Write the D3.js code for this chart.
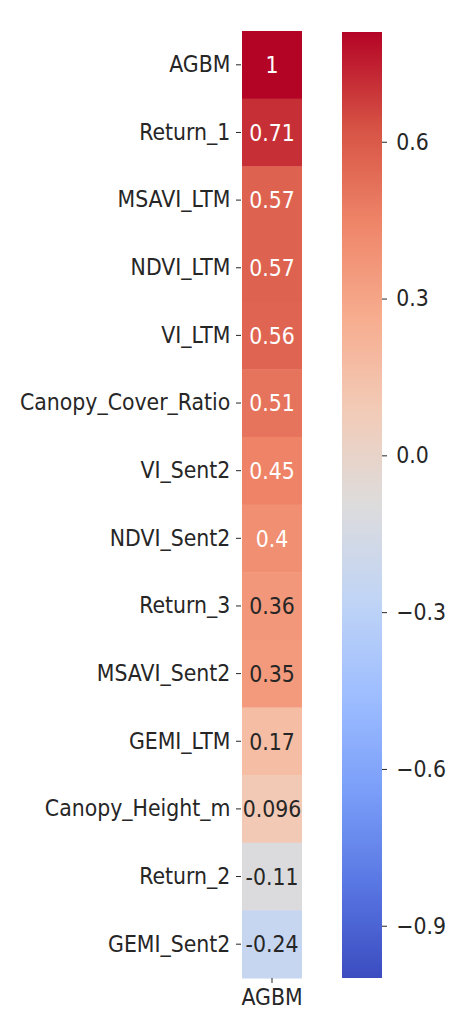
<!DOCTYPE html>
<html>
<head>
<meta charset="utf-8">
<script src="https://cdn.jsdelivr.net/npm/d3@7"></script>
<style>
  html, body { margin: 0; padding: 0; background: #fff; }
  text { font-family: "DejaVu Sans", sans-serif; }
</style>
</head>
<body>
<svg id="chart" width="450" height="1021"></svg>
<script>
const categories = ["AGBM","Return_1","MSAVI_LTM","NDVI_LTM","VI_LTM","Canopy_Cover_Ratio","VI_Sent2","NDVI_Sent2","Return_3","MSAVI_Sent2","GEMI_LTM","Canopy_Height_m","Return_2","GEMI_Sent2"];
const values = [1, 0.71, 0.57, 0.57, 0.56, 0.51, 0.45, 0.4, 0.36, 0.35, 0.17, 0.096, -0.11, -0.24];
const labels = ["1","0.71","0.57","0.57","0.56","0.51","0.45","0.4","0.36","0.35","0.17","0.096","-0.11","-0.24"];
const columnName = ["AGBM"];
const colorbarTicks = [0.6, 0.3, 0.0, -0.3, -0.6, -0.9];
const colorDomain = [-1, 0.81];
const coolwarm = ["#3b4cc0","#5977e3","#7b9ff9","#9ebeff","#c0d4f5","#dddcdc","#f2cbb7","#f7ac8e","#ee8468","#d65244","#b40426"];

const svg = d3.select("#chart");
const FS = 23, SX = 0.89;
const plotTop = 31, plotBottom = 978;
const hmLeft = 242, hmRight = 302;
const cbLeft = 342, cbRight = 382;

const interp = d3.piecewise(d3.interpolateRgb, coolwarm);
const norm = d3.scaleLinear().domain(colorDomain).range([0,1]).clamp(true);
const color = v => interp(norm(v));

const y = d3.scaleBand().domain(categories).range([plotTop, plotBottom]);
const x = d3.scaleBand().domain(columnName).range([hmLeft, hmRight]);

// cells
svg.append("g").selectAll("rect").data(categories).join("rect")
  .attr("x", x("AGBM")).attr("width", x.bandwidth())
  .attr("y", d => y(d)).attr("height", y.bandwidth() + 0.5)
  .attr("fill", (d,i) => color(values[i]));

// annotations
svg.append("g").selectAll("text").data(categories).join("text")
  .attr("transform", d => `translate(${x("AGBM") + x.bandwidth()/2},${y(d) + y.bandwidth()/2}) scale(${SX},1)`)
  .attr("text-anchor", "middle").attr("dy", "0.36em")
  .attr("font-size", FS)
  .attr("fill", (d,i) => norm(values[i]) > 0.76 ? "#ffffff" : "#262626")
  .text((d,i) => labels[i]);

// y axis
const yAxis = svg.append("g").attr("transform", `translate(${hmLeft - 1},0)`)
  .call(d3.axisLeft(y).tickSize(5).tickPadding(7));
yAxis.select(".domain").remove();
yAxis.selectAll("line").attr("stroke", "#262626");
yAxis.selectAll("text").attr("font-size", FS).attr("fill", "#262626")
  .attr("font-family", "DejaVu Sans").attr("transform", `scale(${SX},1)`);

// x axis
const xAxis = svg.append("g").attr("transform", `translate(0,${plotBottom})`)
  .call(d3.axisBottom(x).tickSize(5).tickPadding(6));
xAxis.select(".domain").remove();
xAxis.selectAll("line").attr("stroke", "#262626");
xAxis.selectAll("text").attr("font-size", FS).attr("fill", "#262626")
  .attr("font-family", "DejaVu Sans").attr("transform", `scale(${SX},1)`)
  .attr("x", 0);

// colorbar
const cy = d3.scaleLinear().domain(colorDomain).range([plotBottom, plotTop + 1]);
const defs = svg.append("defs");
const grad = defs.append("linearGradient").attr("id", "cb")
  .attr("x1", 0).attr("x2", 0).attr("y1", 1).attr("y2", 0);
d3.range(0, 1.0001, 0.02).forEach(t => {
  grad.append("stop").attr("offset", t).attr("stop-color", interp(t));
});
svg.append("rect").attr("x", cbLeft).attr("width", cbRight - cbLeft)
  .attr("y", cy(colorDomain[1])).attr("height", cy(colorDomain[0]) - cy(colorDomain[1]))
  .attr("fill", "url(#cb)");

const cAxis = svg.append("g").attr("transform", `translate(${cbRight},0)`)
  .call(d3.axisRight(cy).tickValues(colorbarTicks).tickSize(5).tickPadding(11)
    .tickFormat(d => d3.format(".1f")(d).replace("-", "\u2212")));
cAxis.select(".domain").remove();
cAxis.selectAll("line").attr("stroke", "#262626");
cAxis.selectAll("text").attr("font-size", FS).attr("fill", "#262626")
  .attr("font-family", "DejaVu Sans").attr("transform", `scale(${SX},1)`);
</script>
</body>
</html>
